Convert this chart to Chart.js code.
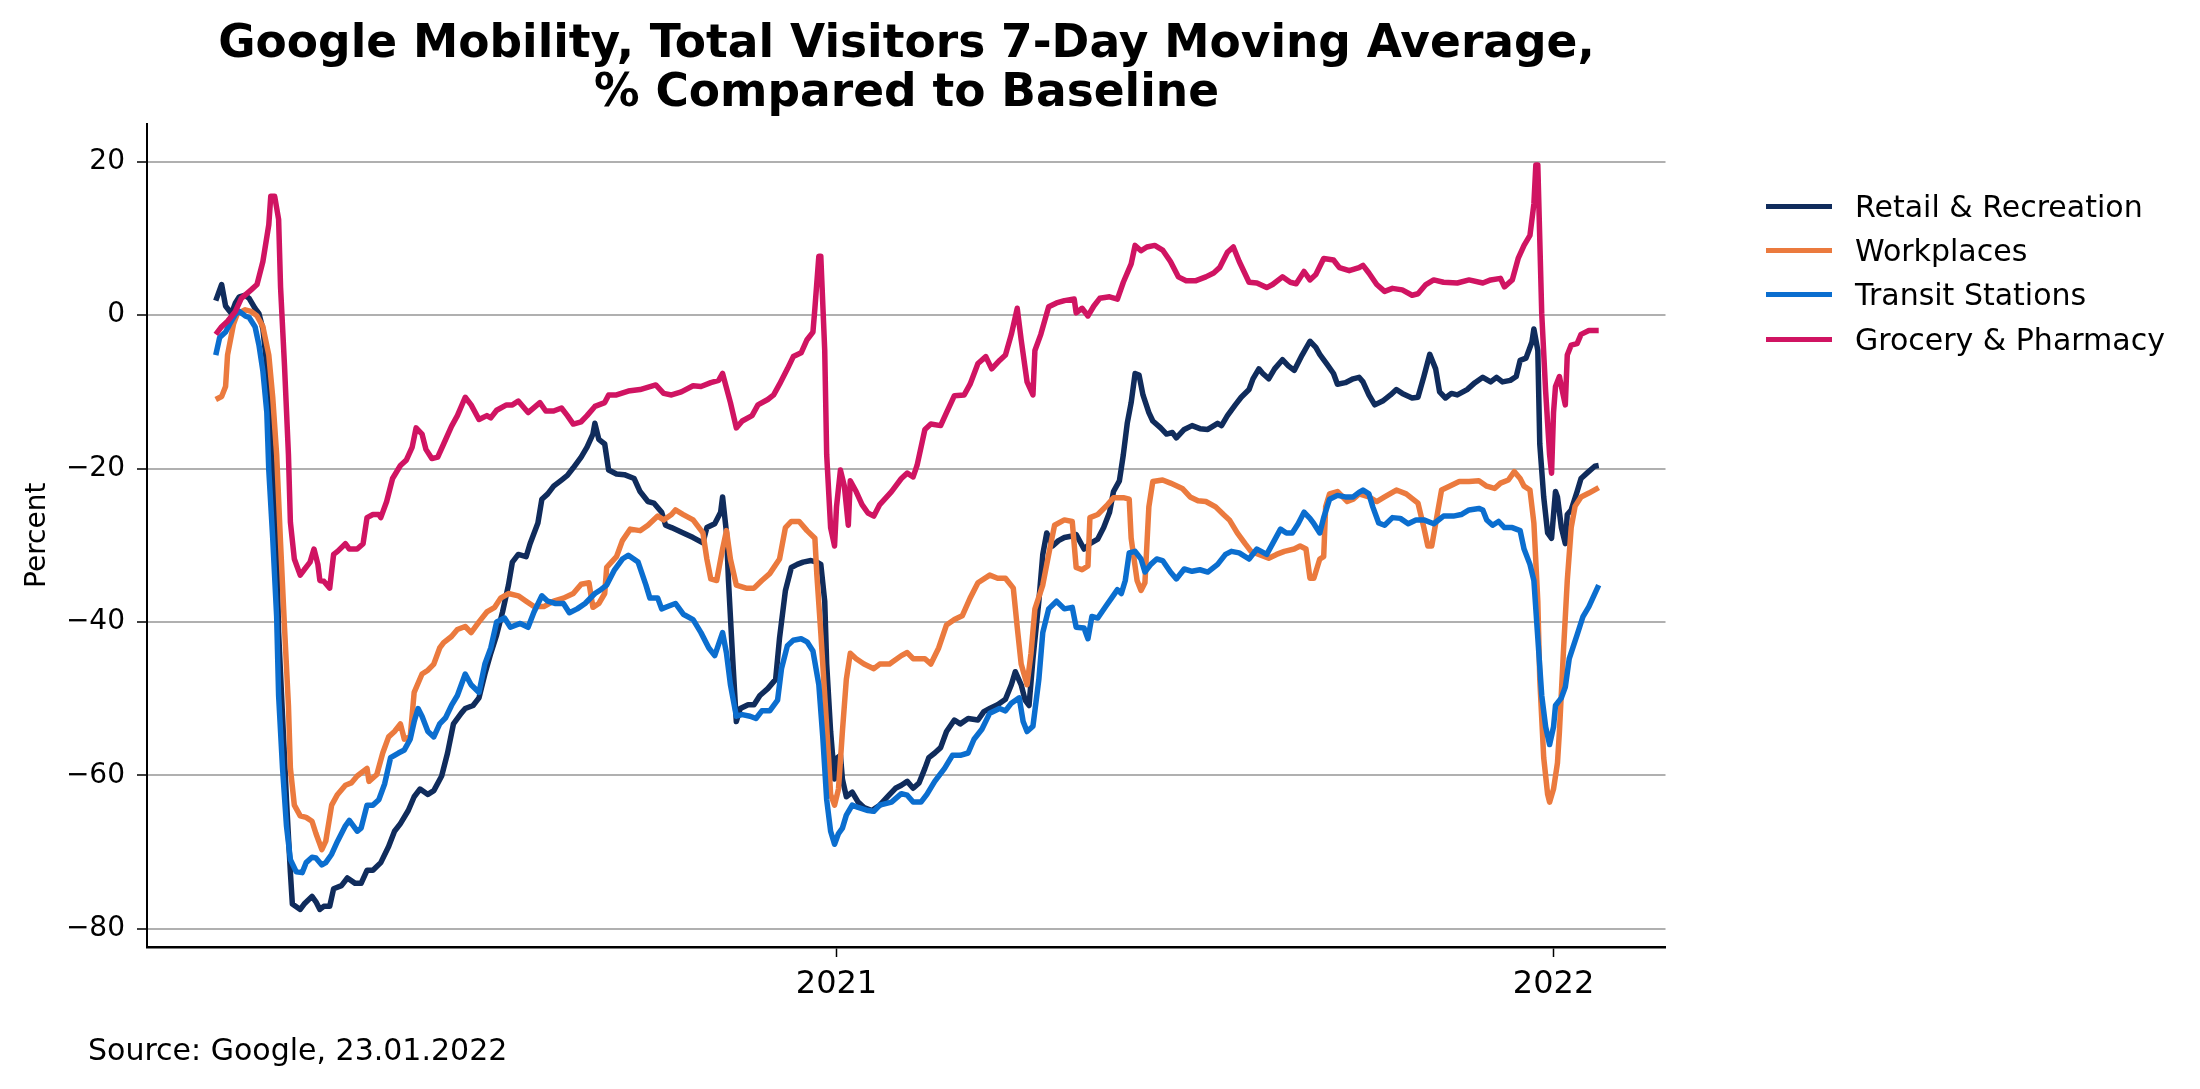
<!DOCTYPE html>
<html><head><meta charset="utf-8">
<script src="https://cdn.jsdelivr.net/npm/chart.js@4.4.1/dist/chart.umd.min.js"></script>
<style>
html,body{margin:0;padding:0;background:#fff;}
#wrap{position:relative;width:2200px;height:1089px;overflow:hidden;font-family:'DejaVu Sans',sans-serif;color:#000;}
canvas{position:absolute;left:0;top:0;}
#title{position:absolute;left:147px;width:1519px;top:17px;text-align:center;font-weight:bold;font-size:45.5px;line-height:49px;white-space:nowrap;}
#legend{position:absolute;left:1766px;top:184px;}
.row{display:flex;align-items:center;height:44.3px;font-size:30px;white-space:nowrap;}
.sw{width:66px;height:5px;margin-right:23px;}
#source{position:absolute;left:88px;top:1032px;font-size:30px;line-height:36px;}
</style></head><body>
<div id="wrap"><canvas id="c" width="2200" height="1089"></canvas>
<div id="title"></div>
<div id="legend"></div><div id="source"></div></div>
<script>
// x values: days relative to 1 Jan 2021 (negative = 2020)
const titleLines = ["Google Mobility, Total Visitors 7-Day Moving Average,", "% Compared to Baseline"];
const sourceText = "Source: Google, 23.01.2022";
const yTitle = "Percent";
const seriesLabels = ["Retail & Recreation", "Workplaces", "Transit Stations", "Grocery & Pharmacy"];
const xTickDays = [0, 365];
const xTickLabels = ["2021", "2022"];
const yTickValues = [-80, -60, -40, -20, 0, 20];

const retail = [[-316,1.9],[-313,4.0],[-311,1.2],[-308,0.2],[-306,1.6],[-304,2.4],[-301,2.6],[-299,2.2],[-296,0.9],[-294,0.2],[-292,-1.8],[-290,-6.6],[-289,-12.1],[-287,-20.2],[-285,-30.5],[-284,-41.4],[-282,-52.3],[-280,-63.2],[-278,-72.7],[-277,-76.8],[-273,-77.5],[-271,-76.8],[-267,-75.8],[-265,-76.5],[-263,-77.5],[-261,-77.1],[-258,-77.1],[-256,-74.8],[-252,-74.4],[-249,-73.4],[-245,-74.1],[-242,-74.1],[-239,-72.4],[-236,-72.4],[-232,-71.4],[-228,-69.3],[-225,-67.3],[-222,-66.3],[-218,-64.6],[-215,-62.8],[-212,-61.8],[-208,-62.5],[-205,-62],[-201,-60.1],[-198,-57.1],[-195,-53.3],[-191,-51.9],[-189,-51.3],[-185,-50.9],[-182,-49.9],[-179,-46.8],[-176,-44.1],[-173,-41.7],[-170,-38.7],[-167,-35.2],[-165,-32.2],[-162,-31.2],[-158,-31.5],[-156,-29.8],[-152,-27.1],[-150,-24],[-147,-23.3],[-144,-22.3],[-140,-21.5],[-137,-20.9],[-134,-19.9],[-130,-18.5],[-127,-17.2],[-124,-15.5],[-123,-14.1],[-121,-16.2],[-118,-16.8],[-116,-20.2],[-112,-20.7],[-108,-20.8],[-103,-21.3],[-100,-23],[-96,-24.3],[-93,-24.5],[-89,-25.7],[-87,-27.4],[-84,-27.7],[-78,-28.4],[-73,-29],[-68,-29.7],[-66,-27.7],[-62,-27.2],[-59,-25.7],[-58,-23.7],[-56,-28.4],[-55,-34.6],[-53,-44.1],[-51,-53],[-49,-51.3],[-45,-50.8],[-42,-50.8],[-39,-49.6],[-35,-48.7],[-31,-47.5],[-29,-42.1],[-26,-35.9],[-23,-32.9],[-20,-32.5],[-17,-32.2],[-13,-32],[-10,-32.2],[-8,-32.5],[-6,-37.3],[-5,-45.5],[-3,-54.3],[-1,-60.5],[0,-57.8],[2,-57.4],[3,-60.5],[5,-62.8],[8,-62.2],[11,-63.5],[14,-64.2],[18,-64.6],[22,-63.9],[26,-62.8],[30,-61.7],[33,-61.3],[36,-60.8],[39,-61.7],[42,-61],[45,-59.1],[47,-57.7],[50,-57.1],[53,-56.4],[56,-54.3],[60,-52.8],[63,-53.3],[67,-52.6],[72,-52.8],[75,-51.7],[78,-51.3],[82,-50.8],[86,-50.1],[89,-48.2],[91,-46.5],[94,-48.2],[96,-50.2],[98,-50.9],[100,-44.8],[103,-37.3],[105,-31.2],[107,-28.4],[110,-30.1],[113,-29.4],[116,-29],[120,-28.8],[122,-28.6],[126,-30.5],[129,-29.8],[133,-29.2],[136,-27.7],[139,-25.7],[141,-23],[144,-21.6],[146,-18.2],[148,-14.1],[150,-11.4],[152,-7.6],[154,-7.8],[156,-10.4],[159,-12.7],[161,-13.8],[165,-14.7],[168,-15.5],[171,-15.3],[173,-16],[177,-14.9],[181,-14.4],[185,-14.8],[189,-14.9],[194,-14.1],[196,-14.4],[199,-13.1],[203,-11.7],[206,-10.7],[210,-9.7],[212,-8.3],[215,-7],[217,-7.6],[220,-8.3],[223,-7],[227,-5.8],[230,-6.6],[233,-7.2],[237,-5.2],[241,-3.4],[244,-4.2],[246,-5.1],[250,-6.5],[253,-7.6],[255,-9],[259,-8.8],[263,-8.3],[266,-8.1],[268,-8.7],[271,-10.4],[274,-11.7],[278,-11.2],[282,-10.4],[285,-9.7],[288,-10.2],[293,-10.8],[296,-10.7],[299,-8],[302,-5.1],[305,-7],[307,-10],[310,-10.8],[313,-10.2],[316,-10.4],[321,-9.7],[325,-8.8],[329,-8.1],[333,-8.7],[336,-8.1],[339,-8.7],[343,-8.5],[346,-8],[348,-5.9],[351,-5.6],[354,-3.5],[355,-1.8],[357,-4.6],[358,-16.8],[360,-23.7],[362,-28.4],[364,-29.1],[366,-23],[367,-23.7],[369,-27.7],[371,-29.8],[372,-26],[374,-25.4],[377,-23],[379,-21.3],[382,-20.6],[386,-19.7],[388,-19.6]];

const workplaces = [[-316,-11],[-313,-10.6],[-311,-9.3],[-310,-5.2],[-307,-1.2],[-305,0.2],[-301,0.7],[-298,0.5],[-295,-0.1],[-292,-1.5],[-289,-5.2],[-287,-10.7],[-285,-18.2],[-283,-29.8],[-281,-40.7],[-279,-50.9],[-278,-59.1],[-276,-63.9],[-273,-65.3],[-270,-65.5],[-267,-66],[-265,-67.6],[-262,-69.7],[-260,-68.6],[-257,-63.9],[-254,-62.5],[-250,-61.3],[-247,-61],[-244,-60.1],[-239,-59.1],[-238,-60.8],[-234,-59.9],[-231,-57.1],[-228,-55],[-225,-54.3],[-222,-53.3],[-220,-55.3],[-217,-55],[-215,-49.2],[-211,-46.8],[-208,-46.3],[-205,-45.5],[-202,-43.4],[-200,-42.7],[-196,-41.9],[-193,-41],[-189,-40.6],[-186,-41.4],[-182,-40],[-178,-38.7],[-174,-38.1],[-171,-36.9],[-167,-36.3],[-162,-36.6],[-158,-37.3],[-154,-38],[-149,-38],[-144,-37.3],[-139,-36.9],[-134,-36.3],[-130,-35.1],[-126,-34.9],[-124,-38.1],[-121,-37.6],[-118,-36.3],[-117,-32.9],[-112,-31.5],[-109,-29.4],[-105,-27.9],[-100,-28.1],[-96,-27.4],[-91,-26.2],[-88,-26.7],[-84,-26],[-82,-25.4],[-78,-26],[-73,-26.7],[-68,-28.4],[-66,-31.8],[-64,-34.4],[-61,-34.6],[-58,-30.5],[-56,-28.1],[-54,-31.8],[-51,-35.2],[-46,-35.6],[-42,-35.6],[-38,-34.6],[-34,-33.7],[-29,-31.8],[-26,-27.7],[-23,-26.9],[-19,-26.9],[-15,-28.1],[-11,-29.1],[-10,-33.9],[-8,-41.4],[-6,-49.6],[-4,-57.8],[-3,-62.5],[-1,-63.9],[1,-61.8],[3,-54.3],[5,-47.5],[7,-44.1],[10,-44.8],[14,-45.5],[19,-46.1],[22,-45.5],[27,-45.5],[33,-44.4],[36,-44],[39,-44.8],[45,-44.8],[48,-45.5],[52,-43.4],[56,-40.4],[60,-39.7],[64,-39.2],[68,-36.9],[72,-34.9],[78,-33.9],[82,-34.3],[86,-34.3],[90,-35.6],[92,-40.7],[94,-45.5],[97,-48.2],[99,-44.1],[101,-38.3],[105,-35.2],[108,-31.2],[111,-27.4],[116,-26.7],[120,-26.9],[122,-32.9],[125,-33.2],[128,-32.7],[129,-26.4],[133,-26],[138,-24.7],[141,-23.8],[146,-23.8],[149,-24],[150,-29.1],[153,-34.6],[155,-35.9],[157,-34.9],[159,-25],[161,-21.7],[166,-21.5],[170,-21.9],[176,-22.6],[180,-23.7],[184,-24.2],[188,-24.3],[193,-25],[197,-26],[200,-26.7],[204,-28.4],[208,-29.8],[211,-30.8],[216,-31.3],[220,-31.7],[224,-31.2],[228,-30.8],[233,-30.5],[236,-30.1],[239,-30.5],[241,-34.3],[243,-34.3],[246,-31.8],[248,-31.5],[249,-25],[251,-23.3],[255,-23],[260,-24.3],[263,-24],[266,-23.3],[271,-23.7],[275,-24.3],[279,-23.7],[285,-22.8],[290,-23.3],[296,-24.5],[299,-27.7],[301,-30.1],[303,-30.1],[306,-25.7],[308,-22.8],[312,-22.3],[317,-21.7],[322,-21.7],[327,-21.6],[331,-22.3],[335,-22.6],[338,-21.9],[342,-21.5],[345,-20.4],[348,-21.3],[350,-22.3],[353,-22.8],[355,-27.1],[357,-37.3],[358,-47.5],[360,-57.7],[362,-62.5],[363,-63.5],[365,-61.8],[367,-58.4],[368,-54.3],[370,-44.1],[372,-34.6],[374,-27.7],[376,-24.9],[379,-23.7],[383,-23.2],[388,-22.5]];

const transit = [[-316,-5.2],[-314,-2.9],[-311,-2.2],[-309,-1.2],[-306,0.1],[-304,0.5],[-301,-0.1],[-299,-0.3],[-296,-1.5],[-294,-3.9],[-292,-7.3],[-290,-12.7],[-289,-20.2],[-287,-29.1],[-285,-39.3],[-284,-49.6],[-282,-59.1],[-280,-66.6],[-278,-71],[-275,-72.6],[-272,-72.7],[-270,-71.4],[-267,-70.7],[-265,-70.8],[-262,-71.7],[-260,-71.4],[-257,-70.3],[-254,-68.6],[-250,-66.6],[-248,-65.9],[-244,-67.3],[-242,-66.9],[-239,-63.9],[-236,-63.9],[-233,-63.2],[-230,-61.1],[-227,-57.7],[-223,-57.1],[-220,-56.7],[-217,-55.3],[-215,-53],[-213,-51.3],[-211,-52.3],[-208,-54.3],[-205,-55],[-202,-53.3],[-199,-52.5],[-196,-50.9],[-193,-49.6],[-189,-46.8],[-186,-48.2],[-182,-49.2],[-179,-45.5],[-176,-43.4],[-173,-40],[-169,-39.5],[-166,-40.7],[-161,-40.2],[-157,-40.7],[-154,-38.7],[-150,-36.6],[-147,-37.3],[-143,-37.6],[-139,-37.6],[-136,-38.8],[-132,-38.3],[-128,-37.6],[-123,-36.3],[-120,-35.8],[-117,-35.2],[-113,-33.2],[-109,-31.8],[-106,-31.3],[-101,-32.2],[-97,-35.2],[-95,-36.9],[-91,-36.9],[-89,-38.3],[-86,-38],[-82,-37.6],[-78,-39],[-73,-39.7],[-69,-41.4],[-65,-43.4],[-62,-44.4],[-58,-41.4],[-56,-44.1],[-54,-48.2],[-51,-52.3],[-48,-52.1],[-44,-52.3],[-41,-52.6],[-38,-51.6],[-34,-51.6],[-30,-50.2],[-28,-46.1],[-25,-43.1],[-22,-42.4],[-18,-42.2],[-15,-42.6],[-12,-43.8],[-9,-48.2],[-7,-55],[-5,-63.2],[-3,-67.3],[-1,-69],[1,-67.6],[3,-66.9],[5,-65.2],[8,-63.9],[11,-64.2],[16,-64.6],[19,-64.7],[22,-63.9],[28,-63.5],[33,-62.4],[36,-62.6],[39,-63.5],[43,-63.5],[46,-62.5],[50,-60.8],[55,-59.1],[59,-57.4],[63,-57.4],[67,-57.1],[70,-55.3],[74,-54],[78,-51.9],[83,-51.3],[86,-51.6],[89,-50.6],[93,-49.9],[95,-53],[97,-54.3],[100,-53.6],[103,-47.5],[105,-41.4],[108,-38.3],[112,-37.3],[116,-38.3],[120,-38.1],[122,-40.7],[126,-40.8],[128,-42.2],[130,-39.3],[133,-39.5],[137,-38],[140,-36.9],[143,-35.8],[145,-36.3],[147,-34.6],[149,-31],[152,-30.8],[155,-31.8],[157,-33.5],[160,-32.5],[163,-31.8],[166,-32],[170,-33.5],[173,-34.4],[177,-33.1],[181,-33.4],[185,-33.2],[189,-33.5],[194,-32.5],[198,-31.2],[201,-30.8],[205,-31],[210,-31.8],[214,-30.5],[219,-31.2],[222,-29.8],[226,-27.9],[229,-28.4],[232,-28.4],[235,-27.2],[238,-25.7],[241,-26.5],[243,-27.2],[246,-28.4],[248,-26.4],[251,-24],[255,-23.5],[259,-23.7],[263,-23.7],[266,-23.1],[268,-22.8],[271,-23.3],[273,-25],[276,-27.1],[279,-27.4],[283,-26.4],[287,-26.5],[291,-27.2],[295,-26.7],[299,-26.7],[304,-27.2],[309,-26.2],[314,-26.2],[318,-26],[322,-25.4],[327,-25.2],[329,-25.4],[331,-26.7],[334,-27.4],[337,-26.9],[340,-27.7],[344,-27.7],[348,-28.1],[350,-30.5],[353,-32.5],[355,-34.6],[357,-42.1],[359,-49.6],[361,-53.7],[363,-56],[365,-53.7],[366,-50.9],[369,-49.9],[371,-48.5],[373,-44.8],[377,-41.7],[380,-39.3],[383,-38],[388,-35.2]];

const grocery = [[-316,-2.5],[-313,-1.5],[-310,-0.8],[-306,0.5],[-303,2.2],[-298,3.3],[-295,4.0],[-292,7.0],[-289,11.8],[-288,15.5],[-286,15.5],[-284,12.5],[-283,3.6],[-281,-6.6],[-279,-18.2],[-278,-27],[-276,-31.8],[-273,-33.9],[-271,-33.2],[-268,-32.2],[-266,-30.5],[-264,-32.5],[-263,-34.6],[-261,-34.7],[-258,-35.6],[-256,-31.2],[-254,-30.8],[-250,-29.8],[-248,-30.5],[-244,-30.5],[-241,-29.8],[-239,-26.4],[-236,-26],[-233,-26],[-232,-26.4],[-229,-24.3],[-226,-21.3],[-222,-19.6],[-219,-18.9],[-216,-17.2],[-214,-14.7],[-211,-15.5],[-209,-17.5],[-206,-18.7],[-203,-18.5],[-200,-16.8],[-196,-14.5],[-193,-13.1],[-189,-10.7],[-186,-11.7],[-182,-13.6],[-178,-13.1],[-176,-13.4],[-173,-12.4],[-168,-11.7],[-165,-11.7],[-162,-11.2],[-157,-12.7],[-151,-11.4],[-148,-12.5],[-144,-12.5],[-140,-12.1],[-137,-13.1],[-134,-14.2],[-130,-13.9],[-127,-13.1],[-123,-11.9],[-118,-11.4],[-116,-10.4],[-112,-10.4],[-106,-9.9],[-100,-9.7],[-92,-9.1],[-88,-10.2],[-84,-10.4],[-79,-10],[-73,-9.2],[-69,-9.3],[-64,-8.8],[-60,-8.5],[-58,-7.6],[-54,-11.4],[-51,-14.7],[-48,-13.8],[-43,-13.1],[-40,-11.7],[-35,-11],[-32,-10.4],[-29,-9],[-25,-7],[-22,-5.4],[-18,-4.9],[-15,-3.2],[-12,-2.2],[-11,0.9],[-9,7.7],[-8,7.7],[-6,-4.6],[-5,-18.2],[-3,-27.7],[-1,-30.1],[0,-25],[2,-20.2],[4,-22.3],[6,-27.4],[7,-21.6],[10,-23],[13,-24.7],[16,-25.8],[19,-26.2],[22,-24.7],[28,-23],[33,-21.3],[36,-20.6],[39,-21.1],[41,-19.6],[45,-14.9],[48,-14.2],[53,-14.4],[56,-12.7],[60,-10.5],[65,-10.4],[68,-9],[72,-6.3],[76,-5.4],[79,-7],[83,-5.9],[86,-5.2],[89,-2.5],[92,0.9],[94,-3.2],[97,-8.7],[100,-10.4],[101,-4.6],[104,-2.5],[108,1.1],[112,1.6],[116,1.9],[121,2.1],[122,0.3],[125,0.9],[128,-0.1],[131,1.2],[134,2.2],[139,2.4],[143,2.1],[146,4.3],[150,6.7],[152,9.1],[155,8.4],[158,8.9],[162,9.1],[166,8.5],[170,7],[174,5],[178,4.5],[183,4.5],[188,5],[192,5.5],[195,6.2],[199,8.2],[202,8.9],[205,7],[210,4.3],[214,4.2],[219,3.6],[222,4],[227,5],[231,4.3],[234,4.1],[238,5.7],[241,4.6],[244,5.3],[248,7.4],[253,7.2],[256,6.2],[261,5.8],[266,6.2],[268,6.5],[271,5.5],[275,4],[279,3.1],[283,3.5],[288,3.3],[293,2.6],[296,2.8],[300,4],[304,4.6],[309,4.3],[316,4.2],[322,4.6],[329,4.2],[333,4.6],[338,4.8],[340,3.7],[344,4.6],[347,7.4],[350,9.1],[353,10.4],[355,14.5],[356,19.6],[357,19.6],[359,0.2],[361,-10],[363,-18.2],[364,-20.6],[365,-12.7],[366,-9.3],[368,-8],[369,-9.3],[371,-11.7],[372,-5.2],[374,-3.9],[377,-3.7],[379,-2.5],[383,-2],[388,-2]];

const seriesData = [retail, workplaces, transit, grocery];
const seriesColors = ["#102c5c", "#eb7a3e", "#0b6ecf", "#d01462"];

document.getElementById('title').innerHTML = titleLines.join('<br>');
document.getElementById('source').textContent = sourceText;
const leg = document.getElementById('legend');
seriesLabels.forEach((lab, i) => {
  const row = document.createElement('div'); row.className = 'row';
  const sw = document.createElement('span'); sw.className = 'sw'; sw.style.background = seriesColors[i];
  const tx = document.createElement('span'); tx.textContent = lab;
  row.appendChild(sw); row.appendChild(tx); leg.appendChild(row);
});

Chart.defaults.font.family = "'DejaVu Sans', sans-serif";
Chart.defaults.color = '#000';

new Chart(document.getElementById('c').getContext('2d'), {
  type: 'line',
  data: {
    datasets: seriesData.map((arr, i) => ({
      label: seriesLabels[i],
      data: arr.map(p => ({x: p[0], y: p[1]})),
      borderColor: seriesColors[i],
      backgroundColor: seriesColors[i],
      borderWidth: 5.5,
      pointRadius: 0,
      fill: false,
      tension: 0,
      borderJoinStyle: 'round',
      order: seriesData.length - i
    }))
  },
  options: {
    responsive: false,
    animation: false,
    devicePixelRatio: 1,
    layout: {padding: {left: 0, top: 123.5, right: 534.5, bottom: 42}},
    plugins: {legend: {display: false}, title: {display: false}, tooltip: {enabled: false}},
    scales: {
      x: {
        type: 'linear', min: -351, max: 422,
        afterBuildTicks: s => { s.ticks = xTickDays.map(v => ({value: v})); },
        afterFit: s => { s.height = 100; },
        ticks: {callback: (v, i) => xTickLabels[i], font: {size: 32}, color: '#000', padding: 8, maxRotation: 0, autoSkip: false},
        grid: {drawOnChartArea: false, drawTicks: true, tickLength: 10, tickColor: '#000', tickWidth: 1.5},
        border: {display: true, color: '#000', width: 2.5}
      },
      y: {
        type: 'linear', min: -82.4, max: 25,
        afterBuildTicks: s => { s.ticks = yTickValues.map(v => ({value: v})); },
        afterFit: s => { s.width = 147; },
        ticks: {callback: v => v < 0 ? '\u2212' + Math.abs(v) : String(v), font: {size: 28}, color: '#000', padding: 12},
        grid: {color: '#b0b0b0', lineWidth: 2, tickLength: 10, tickColor: '#000', tickWidth: 1.5},
        border: {display: true, color: '#000', width: 2},
        title: {display: true, text: yTitle, font: {size: 28}, color: '#000', padding: {top: 21, bottom: 0}}
      }
    }
  }
});
</script>
</body></html>
